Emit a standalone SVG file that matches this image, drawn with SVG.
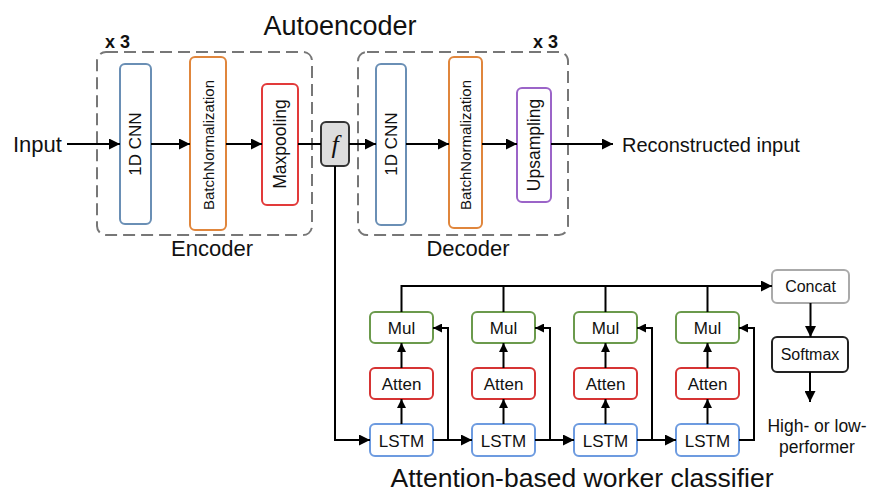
<svg xmlns="http://www.w3.org/2000/svg" width="870" height="493" viewBox="0 0 870 493">
<defs>
<marker id="ah" viewBox="0 0 10 10" refX="10" refY="5" markerWidth="11" markerHeight="11" markerUnits="userSpaceOnUse" orient="auto">
<path d="M0,0 L10,5 L0,10 z" fill="#000"/>
</marker>
<marker id="ahs" viewBox="0 0 10 10" refX="10" refY="5" markerWidth="9" markerHeight="9" markerUnits="userSpaceOnUse" orient="auto">
<path d="M0,0 L10,5 L0,10 z" fill="#000"/>
</marker>
</defs>
<style>
text{font-family:"Liberation Sans",Arial,sans-serif;fill:#111}
.dash{fill:none;stroke:#777;stroke-width:2;stroke-dasharray:12 6}
.box{fill:#fff;stroke-width:2}
.cnn{stroke:#6a8fb5}
.bn{stroke:#e0863c}
.mp{stroke:#e23a3a}
.up{stroke:#9b64c8}
.mul{stroke:#6b9a4c}
.att{stroke:#d63434}
.lstm{stroke:#6d9be0}
.conn{fill:none;stroke:#000;stroke-width:2}
.arr{marker-end:url(#ah)}
.sarr{marker-end:url(#ahs)}
.v{font-size:17px;text-anchor:middle;dominant-baseline:central}
.n{font-size:17px;text-anchor:middle}
</style>

<rect width="870" height="493" fill="#fff"/>

<text x="340" y="35" font-size="27" text-anchor="middle">Autoencoder</text>
<text x="582" y="487" font-size="26.5" text-anchor="middle">Attention-based worker classifier</text>

<g id="encoder">
<rect class="dash" x="97" y="52" width="215" height="183" rx="9"/>
<text x="105" y="48" font-size="18" font-weight="bold">x 3</text>
<text x="212" y="256" font-size="22" text-anchor="middle">Encoder</text>
</g>
<g id="decoder">
<rect class="dash" x="358" y="52" width="210" height="183" rx="9"/>
<text x="533" y="48" font-size="18" font-weight="bold">x 3</text>
<text x="468" y="256" font-size="22" text-anchor="middle">Decoder</text>
</g>

<g id="input"><text x="13" y="152" font-size="22">Input</text></g>
<g id="output"><text x="622" y="152" font-size="20">Reconstructed input</text></g>

<g id="enc-cnn"><rect class="box cnn" x="120" y="64" width="31" height="160" rx="5"/>
<text class="v" transform="translate(135.5,144) rotate(-90)">1D CNN</text></g>
<g id="enc-bn"><rect class="box bn" x="190" y="57" width="36" height="173" rx="5"/>
<text class="v" style="font-size:15px" transform="translate(208,145) rotate(-90)">BatchNormalization</text></g>
<g id="enc-mp"><rect class="box mp" x="262" y="84" width="36" height="121" rx="5"/>
<text class="v" style="font-size:17.5px" transform="translate(280,144) rotate(-90)">Maxpooling</text></g>

<g id="f"><rect x="321" y="122" width="28" height="44" rx="5" fill="#ddd" stroke="#333" stroke-width="2"/>
<text x="335" y="153" font-size="26" font-style="italic" text-anchor="middle" style="font-family:'Liberation Serif','Times New Roman',serif">f</text></g>

<g id="dec-cnn"><rect class="box cnn" x="376" y="64" width="30" height="161" rx="5"/>
<text class="v" transform="translate(391,144) rotate(-90)">1D CNN</text></g>
<g id="dec-bn"><rect class="box bn" x="449" y="57" width="33" height="171" rx="5"/>
<text class="v" style="font-size:15px" transform="translate(465.5,145) rotate(-90)">BatchNormalization</text></g>
<g id="dec-up"><rect class="box up" x="517" y="88" width="34" height="114" rx="5"/>
<text class="v" style="font-size:17.5px" transform="translate(534,145) rotate(-90)">Upsampling</text></g>

<g id="mul1"><rect class="box mul" x="370" y="312" width="63" height="31" rx="5"/><text class="n" x="401.5" y="334">Mul</text></g>
<g id="mul2"><rect class="box mul" x="472" y="312" width="63" height="31" rx="5"/><text class="n" x="503.5" y="334">Mul</text></g>
<g id="mul3"><rect class="box mul" x="574" y="312" width="63" height="31" rx="5"/><text class="n" x="605.5" y="334">Mul</text></g>
<g id="mul4"><rect class="box mul" x="676" y="312" width="63" height="31" rx="5"/><text class="n" x="707.5" y="334">Mul</text></g>

<g id="att1"><rect class="box att" x="370" y="368" width="63" height="31" rx="5"/><text class="n" x="401.5" y="390">Atten</text></g>
<g id="att2"><rect class="box att" x="472" y="368" width="63" height="31" rx="5"/><text class="n" x="503.5" y="390">Atten</text></g>
<g id="att3"><rect class="box att" x="574" y="368" width="63" height="31" rx="5"/><text class="n" x="605.5" y="390">Atten</text></g>
<g id="att4"><rect class="box att" x="676" y="368" width="63" height="31" rx="5"/><text class="n" x="707.5" y="390">Atten</text></g>

<g id="lstm1"><rect class="box lstm" x="370" y="424" width="63" height="32" rx="5"/><text class="n" x="401.5" y="446.5">LSTM</text></g>
<g id="lstm2"><rect class="box lstm" x="472" y="424" width="63" height="32" rx="5"/><text class="n" x="503.5" y="446.5">LSTM</text></g>
<g id="lstm3"><rect class="box lstm" x="574" y="424" width="63" height="32" rx="5"/><text class="n" x="605.5" y="446.5">LSTM</text></g>
<g id="lstm4"><rect class="box lstm" x="676" y="424" width="63" height="32" rx="5"/><text class="n" x="707.5" y="446.5">LSTM</text></g>

<g id="concat"><rect class="box" stroke="#aaa" x="772" y="270" width="77" height="33" rx="5"/><text x="810.5" y="292" font-size="16" text-anchor="middle">Concat</text></g>
<g id="softmax"><rect class="box" stroke="#222" x="772" y="337" width="76" height="35" rx="5"/><text x="810" y="360" font-size="16" text-anchor="middle">Softmax</text></g>
<g id="result"><text x="817" y="432" font-size="17.5" text-anchor="middle" fill="#333">High- or low-</text>
<text x="817" y="453" font-size="17.5" text-anchor="middle">performer</text></g>

<g id="connectors">
<path class="conn arr" d="M67,144 H120"/>
<path class="conn arr" d="M151,144 H190"/>
<path class="conn arr" d="M226,144 H262"/>
<path class="conn" d="M298,144 H321"/>
<path class="conn arr" d="M349,144 H376"/>
<path class="conn arr" d="M406,144 H449"/>
<path class="conn arr" d="M482,144 H517"/>
<path class="conn arr" d="M551,144 H613"/>

<path class="conn arr" d="M335,166 V440 H370"/>
<path class="conn arr" d="M433,440 H472"/>
<path class="conn arr" d="M535,440 H574"/>
<path class="conn arr" d="M637,440 H676"/>

<path class="conn sarr" d="M448,440 V328 H433"/>
<path class="conn sarr" d="M550,440 V328 H535"/>
<path class="conn sarr" d="M652,440 V328 H637"/>
<path class="conn sarr" d="M739,440 H754 V328 H739"/>

<path class="conn sarr" d="M401.5,424 V399"/>
<path class="conn sarr" d="M503.5,424 V399"/>
<path class="conn sarr" d="M605.5,424 V399"/>
<path class="conn sarr" d="M707.5,424 V399"/>
<path class="conn sarr" d="M401.5,368 V343"/>
<path class="conn sarr" d="M503.5,368 V343"/>
<path class="conn sarr" d="M605.5,368 V343"/>
<path class="conn sarr" d="M707.5,368 V343"/>

<path class="conn arr" d="M401.5,312 V286 H772"/>
<path class="conn" d="M503.5,312 V286"/>
<path class="conn" d="M605.5,312 V286"/>
<path class="conn" d="M707.5,312 V286"/>

<path class="conn arr" d="M810.5,303 V337"/>
<path class="conn arr" d="M810,372 V402"/>
</g>
</svg>
